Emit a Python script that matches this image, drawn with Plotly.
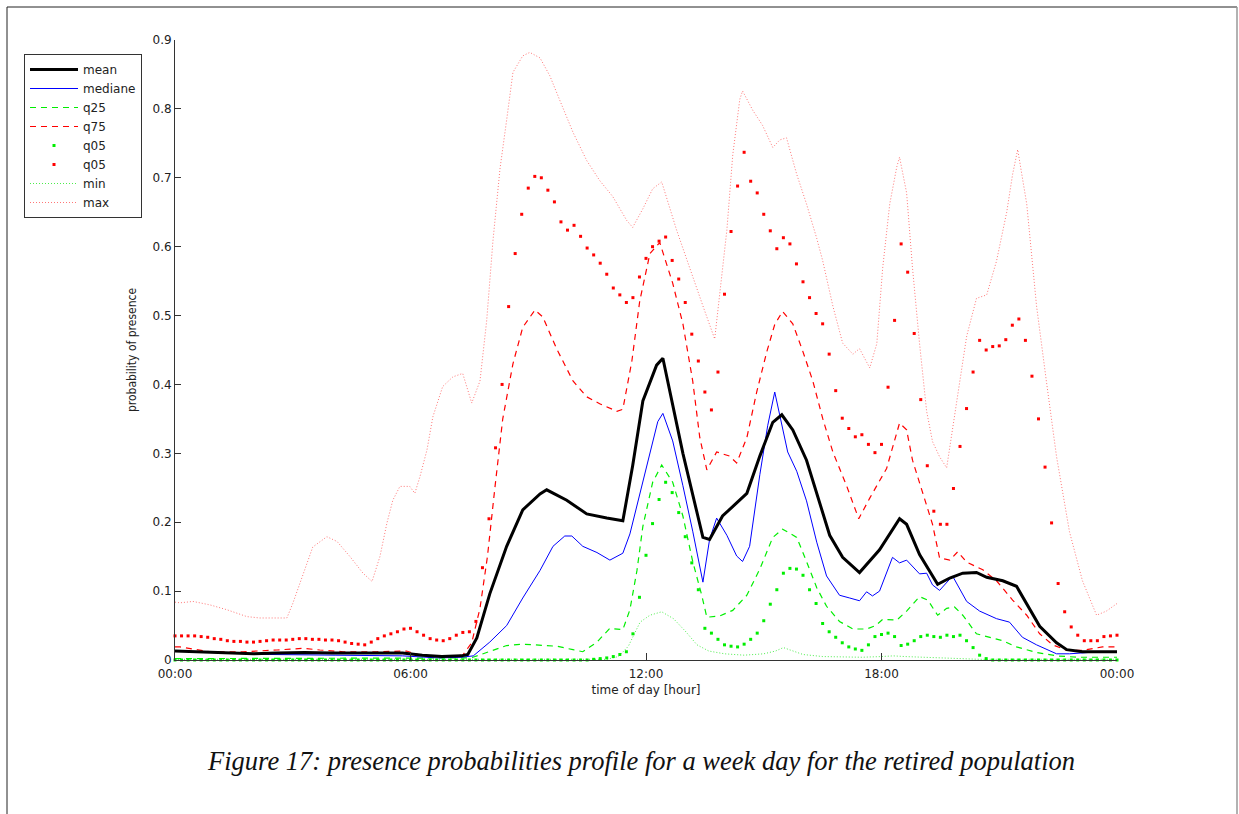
import plotly.graph_objects as go

# ---- time grid of the 10-minute quantile samples (hours after midnight) ----
slot_hours = [i / 6 for i in range(145)]

# 95 % quantile (red dots), one value per 10-minute slot
q95_vals = [
    0.035, 0.035, 0.035, 0.035, 0.034, 0.033, 0.031, 0.030, 0.028, 0.027,
    0.027, 0.026, 0.026, 0.027, 0.028, 0.029, 0.029, 0.029, 0.030, 0.031,
    0.031, 0.030, 0.030, 0.029, 0.029, 0.028, 0.026, 0.024, 0.023, 0.022,
    0.026, 0.031, 0.035, 0.038, 0.041, 0.045, 0.046, 0.041, 0.036, 0.031,
    0.029, 0.028, 0.031, 0.036, 0.040, 0.041, 0.056, 0.134, 0.205, 0.308,
    0.400, 0.513, 0.590, 0.647, 0.685, 0.702, 0.700, 0.682, 0.665, 0.636,
    0.624, 0.631, 0.615, 0.598, 0.588, 0.576, 0.560, 0.540, 0.530, 0.519,
    0.526, 0.556, 0.583, 0.600, 0.608, 0.614, 0.580, 0.553, 0.519, 0.473,
    0.434, 0.389, 0.363, 0.418, 0.531, 0.622, 0.688, 0.737, 0.695, 0.678,
    0.647, 0.623, 0.597, 0.613, 0.604, 0.575, 0.549, 0.526, 0.503, 0.488,
    0.444, 0.391, 0.351, 0.336, 0.324, 0.327, 0.313, 0.301, 0.313, 0.396,
    0.493, 0.604, 0.563, 0.474, 0.378, 0.282, 0.216, 0.197, 0.197, 0.249,
    0.310, 0.365, 0.418, 0.464, 0.450, 0.455, 0.456, 0.465, 0.486, 0.495,
    0.464, 0.412, 0.350, 0.280, 0.199, 0.111, 0.070, 0.048, 0.036, 0.028,
    0.028, 0.028, 0.034, 0.035, 0.036,
]

# 5 % quantile (green dots), one value per 10-minute slot
q05_vals = [
    0.0, 0.0, 0.0, 0.0, 0.0, 0.0, 0.0, 0.0, 0.0, 0.0,
    0.0, 0.0, 0.0, 0.0, 0.0, 0.0, 0.0, 0.0, 0.0, 0.0,
    0.0, 0.0, 0.0, 0.0, 0.0, 0.0, 0.0, 0.0, 0.0, 0.0,
    0.0, 0.0, 0.0, 0.0, 0.0, 0.0, 0.0, 0.0, 0.0, 0.0,
    0.0, 0.0, 0.0, 0.0, 0.0, 0.0, 0.0, 0.0, 0.0, 0.0,
    0.0, 0.0, 0.0, 0.0, 0.0, 0.0, 0.0, 0.0, 0.0, 0.0,
    0.0, 0.0, 0.0, 0.0, 0.001, 0.002, 0.003, 0.005, 0.008, 0.012,
    0.038, 0.091, 0.152, 0.198, 0.233, 0.258, 0.243, 0.214, 0.179, 0.141,
    0.102, 0.046, 0.039, 0.030, 0.022, 0.020, 0.019, 0.023, 0.030, 0.039,
    0.057, 0.081, 0.102, 0.126, 0.133, 0.132, 0.123, 0.102, 0.082, 0.053,
    0.041, 0.033, 0.025, 0.019, 0.016, 0.014, 0.022, 0.034, 0.037, 0.039,
    0.034, 0.021, 0.023, 0.028, 0.034, 0.036, 0.034, 0.033, 0.036, 0.034,
    0.036, 0.028, 0.018, 0.007, 0.002, 0.0, 0.0, 0.0, 0.0, 0.0,
    0.0, 0.0, 0.0, 0.0, 0.0, 0.0, 0.0, 0.0, 0.0, 0.0,
    0.0, 0.0, 0.0, 0.0, 0.0,
]

# mean profile
mean_t = [0, 0.5, 1.0, 2.0, 2.6, 3.3, 4.0, 5.0, 5.8, 6.3, 6.8, 7.3, 7.46, 7.69,
          8.02, 8.45, 8.86, 9.3, 9.47, 9.98, 10.49, 11.0, 11.41, 11.66, 11.92,
          12.27, 12.43, 12.94, 13.45, 13.62, 13.95, 14.31, 14.57, 14.9, 15.23,
          15.46, 15.74, 16.09, 16.42, 16.68, 17.01, 17.44, 17.95, 18.03, 18.46,
          18.64, 18.97, 19.43, 19.74, 20.07, 20.42, 20.68, 21.09, 21.44, 21.7,
          22.03, 22.46, 22.72, 23.12, 24]
mean_v = [0.013, 0.012, 0.011, 0.009, 0.010, 0.011, 0.010, 0.010, 0.010, 0.007,
          0.005, 0.006, 0.008, 0.032, 0.096, 0.165, 0.218, 0.241, 0.247, 0.232,
          0.212, 0.206, 0.202, 0.282, 0.376, 0.428, 0.438, 0.300, 0.178, 0.175,
          0.209, 0.228, 0.242, 0.296, 0.345, 0.356, 0.334, 0.290, 0.231, 0.181,
          0.149, 0.127, 0.160, 0.167, 0.205, 0.197, 0.153, 0.110, 0.119, 0.126,
          0.127, 0.120, 0.115, 0.107, 0.082, 0.049, 0.025, 0.015, 0.012, 0.012]

# median profile
median_t = [0, 1, 2.4, 4.1, 5.8, 6.7, 7.3, 7.6, 8.02, 8.45, 8.86, 9.3, 9.63, 9.93,
            10.11, 10.39, 10.75, 11.08, 11.26, 11.41, 11.59, 11.84, 12.1, 12.3,
            12.43, 12.68, 12.94, 13.19, 13.45, 13.62, 13.8, 14.06, 14.31, 14.46,
            14.64, 14.9, 15.1, 15.28, 15.61, 15.84, 16.09, 16.35, 16.6, 16.93,
            17.19, 17.44, 17.62, 17.77, 17.95, 18.21, 18.28, 18.46, 18.64, 18.97,
            19.15, 19.3, 19.48, 19.81, 20.17, 20.5, 20.93, 21.26, 21.59, 21.95,
            22.46, 22.79, 23.3, 24]
median_v = [0.013, 0.011, 0.008, 0.007, 0.006, 0.003, 0.004, 0.006, 0.026, 0.050,
            0.090, 0.130, 0.165, 0.180, 0.180, 0.165, 0.156, 0.145, 0.151, 0.155,
            0.183, 0.241, 0.299, 0.346, 0.358, 0.318, 0.253, 0.187, 0.113, 0.175,
            0.206, 0.181, 0.151, 0.143, 0.165, 0.269, 0.340, 0.389, 0.302, 0.274,
            0.231, 0.171, 0.122, 0.094, 0.090, 0.086, 0.099, 0.093, 0.100, 0.139,
            0.149, 0.141, 0.145, 0.125, 0.126, 0.109, 0.101, 0.122, 0.085, 0.071,
            0.060, 0.055, 0.033, 0.022, 0.009, 0.009, 0.011, 0.011]

# 25 % quantile
q25_t = [0, 3, 6, 7.4, 7.59, 8.02, 8.45, 8.86, 9.3, 9.73, 10.14, 10.39, 10.75,
         11.08, 11.41, 11.59, 11.77, 11.92, 12.17, 12.4, 12.68, 12.94, 13.19,
         13.42, 13.55, 13.88, 14.21, 14.57, 14.9, 15.23, 15.48, 15.84, 16.09,
         16.35, 16.6, 16.93, 17.27, 17.62, 17.85, 18.03, 18.39, 18.64, 18.97,
         19.18, 19.43, 19.66, 19.86, 20.07, 20.42, 20.75, 21.09, 21.44, 21.95,
         22.46, 23.0, 24]
q25_v = [0.002, 0.002, 0.002, 0.003, 0.004, 0.012, 0.021, 0.023, 0.021, 0.020,
         0.015, 0.012, 0.026, 0.046, 0.044, 0.073, 0.130, 0.194, 0.258, 0.283,
         0.258, 0.209, 0.143, 0.094, 0.062, 0.064, 0.072, 0.094, 0.132, 0.178,
         0.190, 0.178, 0.143, 0.105, 0.078, 0.056, 0.045, 0.045, 0.050, 0.059,
         0.058, 0.071, 0.092, 0.087, 0.065, 0.075, 0.077, 0.065, 0.038, 0.033,
         0.028, 0.019, 0.011, 0.006, 0.004, 0.004]

# 75 % quantile
q75_t = [0, 0.13, 0.89, 1.73, 2.6, 3.26, 3.69, 4.28, 5.14, 5.9, 6.24, 6.82, 7.33,
         7.56, 7.77, 7.96, 8.15, 8.35, 8.61, 8.86, 9.17, 9.37, 9.73, 10.14, 10.49,
         10.82, 11.26, 11.41, 11.64, 11.84, 12.1, 12.35, 12.68, 12.94, 13.19,
         13.37, 13.55, 13.8, 14.13, 14.31, 14.57, 14.82, 15.08, 15.28, 15.48,
         15.74, 15.99, 16.25, 16.5, 16.76, 17.11, 17.42, 17.7, 18.13, 18.46,
         18.64, 18.79, 19.05, 19.3, 19.48, 19.74, 19.94, 20.17, 20.58, 20.93,
         21.34, 21.7, 22.03, 22.36, 22.72, 23.12, 23.63, 24]
q75_v = [0.019, 0.019, 0.012, 0.012, 0.0145, 0.017, 0.0145, 0.012, 0.012, 0.013,
         0.007, 0.005, 0.007, 0.025, 0.075, 0.150, 0.250, 0.350, 0.430, 0.483,
         0.508, 0.498, 0.451, 0.405, 0.382, 0.372, 0.361, 0.364, 0.434, 0.521,
         0.590, 0.606, 0.547, 0.488, 0.405, 0.323, 0.276, 0.302, 0.296, 0.286,
         0.323, 0.389, 0.448, 0.487, 0.506, 0.488, 0.449, 0.405, 0.351, 0.302,
         0.253, 0.205, 0.235, 0.278, 0.344, 0.334, 0.290, 0.241, 0.197, 0.148,
         0.145, 0.157, 0.142, 0.131, 0.115, 0.087, 0.065, 0.038, 0.022, 0.014,
         0.014, 0.019, 0.019]

# minimum over the population
min_t = [0, 11.0, 11.3, 11.55, 11.85, 12.1, 12.4, 12.7, 13.0, 13.3, 13.6, 14.0,
         14.5, 15.0, 15.3, 15.5, 15.7, 16.0, 16.5, 17.0, 17.5, 18.0, 18.3, 18.6,
         19.0, 19.5, 20.0, 20.5, 24]
min_v = [0.001, 0.001, 0.005, 0.020, 0.055, 0.065, 0.070, 0.060, 0.042, 0.022,
         0.013, 0.009, 0.007, 0.009, 0.013, 0.018, 0.014, 0.008, 0.005, 0.004,
         0.004, 0.005, 0.006, 0.005, 0.004, 0.003, 0.002, 0.001, 0.001]

# maximum over the population
max_t = [0, 0.13, 0.46, 0.89, 1.32, 1.83, 2.16, 2.85, 3.0, 3.18, 3.36, 3.51, 3.87,
         4.13, 4.46, 4.79, 5.02, 5.22, 5.4, 5.55, 5.73, 5.98, 6.11, 6.24, 6.42,
         6.57, 6.82, 7.08, 7.33, 7.56, 7.77, 7.94, 8.1, 8.28, 8.45, 8.61, 8.86,
         9.04, 9.3, 9.55, 9.8, 10.14, 10.49, 10.82, 11.15, 11.51, 11.66, 11.92,
         12.17, 12.4, 12.78, 13.11, 13.45, 13.75, 13.88, 14.06, 14.21, 14.39,
         14.46, 14.72, 14.97, 15.23, 15.41, 15.58, 15.84, 16.09, 16.35, 16.5,
         16.76, 17.01, 17.27, 17.44, 17.7, 17.88, 18.03, 18.21, 18.39, 18.46,
         18.64, 18.79, 18.97, 19.15, 19.3, 19.48, 19.66, 19.81, 19.99, 20.17,
         20.42, 20.68, 20.93, 21.19, 21.34, 21.47, 21.7, 21.95, 22.2, 22.46,
         22.79, 23.12, 23.48, 23.73, 24]
max_v = [0.084, 0.083, 0.085, 0.080, 0.073, 0.063, 0.061, 0.061, 0.082, 0.111,
         0.140, 0.164, 0.179, 0.172, 0.150, 0.126, 0.114, 0.150, 0.199, 0.232,
         0.252, 0.252, 0.242, 0.266, 0.305, 0.353, 0.397, 0.411, 0.416, 0.373,
         0.405, 0.492, 0.608, 0.713, 0.784, 0.853, 0.877, 0.882, 0.874, 0.848,
         0.813, 0.766, 0.725, 0.696, 0.673, 0.638, 0.628, 0.655, 0.684, 0.694,
         0.624, 0.569, 0.514, 0.466, 0.536, 0.624, 0.733, 0.814, 0.826, 0.798,
         0.776, 0.744, 0.755, 0.758, 0.705, 0.662, 0.612, 0.580, 0.514, 0.460,
         0.444, 0.452, 0.424, 0.459, 0.569, 0.662, 0.716, 0.730, 0.678, 0.569,
         0.459, 0.361, 0.317, 0.295, 0.279, 0.334, 0.405, 0.470, 0.525, 0.530,
         0.579, 0.650, 0.705, 0.741, 0.662, 0.514, 0.405, 0.295, 0.186, 0.115,
         0.065, 0.071, 0.082]

hour_ticks = [0, 6, 12, 18, 24]
hour_labels = ["00:00", "06:00", "12:00", "18:00", "00:00"]

W, H = 1239, 814
L, R, T, B = 175, 122, 40, 154
PW, PH = W - L - R, H - T - B


def px(x):
    """pixel column -> paper x"""
    return (x - L) / PW


def py(y):
    """pixel row -> paper y"""
    return (H - B - y) / PH


FONT = "DejaVu Sans, Liberation Sans, sans-serif"
FONT_NARROW = "DejaVu Sans Condensed, DejaVu Sans, sans-serif"
DOT = "1px,2px"
DASH = "6px,5px"

fig = go.Figure()

# drawn back to front; legendrank keeps the legend order
fig.add_trace(go.Scatter(x=max_t, y=max_v, mode="lines", name="max", legendrank=8,
                         line=dict(color="rgba(255,60,60,0.7)", width=1, dash=DOT)))
fig.add_trace(go.Scatter(x=min_t, y=min_v, mode="lines", name="min", legendrank=7,
                         line=dict(color="rgba(0,230,0,0.7)", width=1, dash=DOT)))
fig.add_trace(go.Scatter(x=q75_t, y=q75_v, mode="lines", name="q75", legendrank=4,
                         line=dict(color="#ff0000", width=1.2, dash=DASH)))
fig.add_trace(go.Scatter(x=q25_t, y=q25_v, mode="lines", name="q25", legendrank=3,
                         line=dict(color="#00ee00", width=1.2, dash=DASH)))
fig.add_trace(go.Scatter(x=median_t, y=median_v, mode="lines", name="mediane", legendrank=2,
                         line=dict(color="#0000ff", width=1)))
fig.add_trace(go.Scatter(x=mean_t, y=mean_v, mode="lines", name="mean", legendrank=1,
                         line=dict(color="#000000", width=3)))
fig.add_trace(go.Scatter(x=slot_hours, y=q95_vals, mode="markers", name="q05", legendrank=6,
                         cliponaxis=False,
                         marker=dict(color="#ff0000", size=3, symbol="square")))
fig.add_trace(go.Scatter(x=slot_hours, y=q05_vals, mode="markers", name="q05", legendrank=5,
                         cliponaxis=False,
                         marker=dict(color="#00ee00", size=3, symbol="square")))

axis_common = dict(showgrid=False, zeroline=False, showline=True, linecolor="#333",
                   linewidth=1, ticks="inside", tickcolor="#333",
                   tickfont=dict(family=FONT, size=12, color="#222"))

fig.update_xaxes(range=[0, 24], tickvals=hour_ticks, ticktext=hour_labels, ticklen=7,
                 ticklabelstandoff=3,
                 title=dict(text="time of day [hour]", standoff=5,
                            font=dict(family=FONT, size=12, color="#222")),
                 **axis_common)
fig.update_yaxes(range=[0, 0.9], dtick=0.1, ticklen=6,
                 title=dict(text="probability of presence", standoff=13,
                            font=dict(family=FONT_NARROW, size=12, color="#222")),
                 **axis_common)

# page frame
frame = dict(type="line", xref="paper", yref="paper", line=dict(color="#222", width=1))
fig.add_shape(x0=px(7), x1=px(7), y0=py(7), y1=py(830), **frame)
fig.add_shape(x0=px(7), x1=px(1237), y0=py(7), y1=py(7), **frame)
fig.add_shape(type="line", xref="paper", yref="paper", x0=px(1237), x1=px(1237),
              y0=py(7), y1=py(830), line=dict(color="#999", width=1.5))

fig.add_annotation(text="<i>Figure 17: presence probabilities profile for a week day for the retired population</i>",
                   xref="paper", yref="paper", x=px(641), y=py(761), xanchor="center",
                   yanchor="middle", showarrow=False,
                   font=dict(family="Liberation Serif, Times New Roman, serif", size=26.5, color="#111"))

fig.update_layout(
    width=W, height=H, autosize=False,
    margin=dict(l=L, r=R, t=T, b=B, pad=0),
    paper_bgcolor="white", plot_bgcolor="white",
    showlegend=True,
    legend=dict(x=px(24), y=py(54), xanchor="left", yanchor="top",
                bgcolor="white", bordercolor="#333", borderwidth=1,
                font=dict(family=FONT, size=12, color="#222"),
                tracegroupgap=0, itemwidth=48),
)

fig.write_html("out.html")
